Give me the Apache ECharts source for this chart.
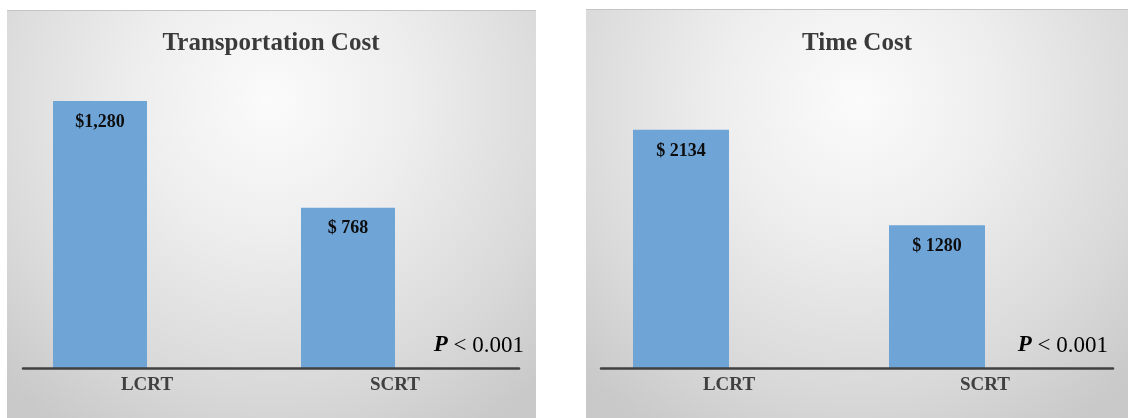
<!DOCTYPE html>
<html>
<head>
<meta charset="utf-8">
<script src="https://cdn.jsdelivr.net/npm/echarts@6/dist/echarts.min.js"></script>
<style>html,body{margin:0;padding:0;background:#fff;}#c{width:1132px;height:418px;}</style>
</head>
<body>
<div id="c"></div>
<script>
// ---- data ----
var categories = ['LCRT', 'SCRT'];
var transportTitle = 'Transportation Cost';
var transportValues = [1280, 768];
var transportLabels = ['$1,280', '$ 768'];
var timeTitle = 'Time Cost';
var timeValues = [2134, 1280];
var timeLabels = ['$ 2134', '$ 1280'];
var pText = '{i|P} < 0.001';

var serif = '"Liberation Serif", "DejaVu Serif", serif';
var barColor = '#6FA4D7';

function panelFill() {
  return {
    type: 'radial', x: 0.5, y: 0.22, r: 0.95,
    colorStops: [
      {offset: 0, color: '#fbfbfb'},
      {offset: 0.35, color: '#eeeeee'},
      {offset: 0.75, color: '#d9d9d9'},
      {offset: 1, color: '#c9c9c9'}
    ]
  };
}

function barSeries(xi, values, labels) {
  return {
    type: 'bar', xAxisIndex: xi, yAxisIndex: xi,
    data: values, barWidth: xi === 0 ? 94 : 96, barGap: '0%',
    itemStyle: {color: barColor},
    label: {
      show: true, position: 'insideTop', distance: 12,
      formatter: function (p) { return labels[p.dataIndex]; },
      fontFamily: serif, fontWeight: 'bold', fontSize: 18, color: '#0d0d0d'
    },
    silent: true, z: 3
  };
}
function spacerSeries(xi) {
  return {
    type: 'bar', xAxisIndex: xi, yAxisIndex: xi,
    data: ['-', '-'], barWidth: xi === 0 ? 94 : 96, barGap: '0%',
    itemStyle: {color: 'transparent'}, silent: true
  };
}
function xAxis(gi) {
  return {
    type: 'category', gridIndex: gi, data: categories,
    axisLine: {show: true, lineStyle: {color: '#404040', width: 2.5}},
    axisTick: {show: false},
    axisLabel: {margin: 8, fontFamily: serif, fontWeight: 'bold', fontSize: 19, color: '#404040'},
    z: 5
  };
}
function yAxis(gi, max) {
  return {
    type: 'value', gridIndex: gi, min: 0, max: max, show: false,
    splitLine: {show: false}
  };
}

var chart = echarts.init(document.getElementById('c'), null, {renderer: 'canvas'});
chart.setOption({
  animation: false,
  backgroundColor: '#ffffff',
  graphic: [
    {type: 'rect', z: -10, shape: {x: 7, y: 10, width: 529, height: 408}, style: {fill: panelFill()}, silent: true},
    {type: 'rect', z: -10, shape: {x: 586, y: 9, width: 542, height: 409}, style: {fill: panelFill()}, silent: true},
    {type: 'line', z: -9, shape: {x1: 7, y1: 10.5, x2: 536, y2: 10.5}, style: {stroke: '#c4c4c4', lineWidth: 1}, silent: true},
    {type: 'line', z: -9, shape: {x1: 586, y1: 9.5, x2: 1128, y2: 9.5}, style: {stroke: '#c4c4c4', lineWidth: 1}, silent: true}
  ],
  title: [
    {text: transportTitle, left: 271, top: 31, textAlign: 'center', padding: 0,
     textStyle: {fontFamily: serif, fontWeight: 'bold', fontSize: 25, color: '#3a3a3a'}},
    {text: timeTitle, left: 857, top: 31, textAlign: 'center', padding: 0,
     textStyle: {fontFamily: serif, fontWeight: 'bold', fontSize: 25, color: '#3a3a3a'}},
    {text: pText, right: 608, top: 334, padding: 0,
     textStyle: {fontFamily: serif, fontWeight: 'normal', fontSize: 23, color: '#000',
       rich: {i: {fontFamily: serif, fontStyle: 'italic', fontWeight: 'bold', fontSize: 23, color: '#000'}}}},
    {text: pText, right: 24, top: 334, padding: 0,
     textStyle: {fontFamily: serif, fontWeight: 'normal', fontSize: 23, color: '#000',
       rich: {i: {fontFamily: serif, fontStyle: 'italic', fontWeight: 'bold', fontSize: 23, color: '#000'}}}}
  ],
  grid: [
    {left: 23, right: 613, top: 55, bottom: 50},
    {left: 601, right: 19, top: 89, bottom: 50}
  ],
  xAxis: [xAxis(0), xAxis(1)],
  yAxis: [yAxis(0, 1500), yAxis(1, 2500)],
  series: [
    barSeries(0, transportValues, transportLabels), spacerSeries(0),
    barSeries(1, timeValues, timeLabels), spacerSeries(1)
  ]
});
</script>
</body>
</html>
